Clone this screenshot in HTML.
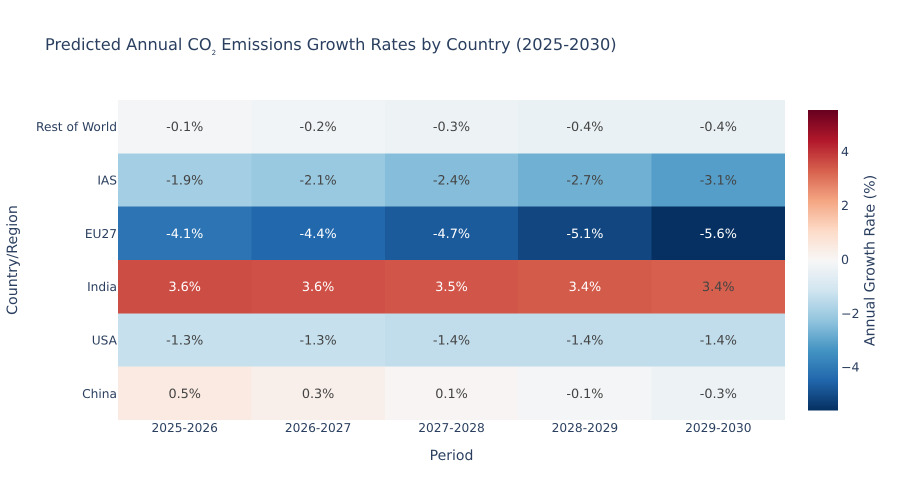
<!DOCTYPE html>
<html lang="en">
<head>
<meta charset="utf-8">
<title>Predicted Annual CO₂ Emissions Growth Rates by Country (2025-2030)</title>
<style>
html,body{margin:0;padding:0;background:#fff;width:900px;height:500px;overflow:hidden}
svg{display:block}
text{font-family:"DejaVu Sans",sans-serif;text-rendering:geometricPrecision}
</style>
</head>
<body>
<svg id="chart" width="900" height="500" viewBox="0 0 900 500" xmlns="http://www.w3.org/2000/svg">
  <rect x="0" y="0" width="900" height="500" fill="#fff"/>
  <text x="45" y="50" font-size="16.2" fill="#2a3f5f">Predicted Annual CO<tspan font-size="7" dy="5">2</tspan><tspan dy="-5"> Emissions Growth Rates by Country (2025-2030)</tspan></text>
  <g id="cells"></g>
  <g id="xticks"></g>
  <g id="yticks"></g>
  <text x="451.5" y="460" font-size="14" fill="#2a3f5f" text-anchor="middle">Period</text>
  <text transform="translate(17,260) rotate(-90)" font-size="14.2" fill="#2a3f5f" text-anchor="middle">Country/Region</text>
  <g id="colorbar"></g>
  <g id="cbticks"></g>
  <text transform="translate(874.5,260.5) rotate(-90)" font-size="14.2" fill="#2a3f5f" text-anchor="middle">Annual Growth Rate (%)</text>
</svg>
<script>
const periods = ["2025-2026", "2026-2027", "2027-2028", "2028-2029", "2029-2030"];
const regions = ["China", "USA", "India", "EU27", "IAS", "Rest of World"];
const chinaValues = [0.5, 0.3, 0.1, -0.1, -0.3];
const usaValues = [-1.3, -1.3, -1.4, -1.4, -1.4];
const indiaValues = [3.63, 3.58, 3.5, 3.42, 3.35];
const eu27Values = [-4.1, -4.4, -4.7, -5.1, -5.56];
const iasValues = [-1.9, -2.1, -2.4, -2.7, -3.1];
const restOfWorldValues = [-0.1, -0.2, -0.3, -0.4, -0.4];
const colorbarTicks = [-4, -2, 0, 2, 4];

const rows = [chinaValues, usaValues, indiaValues, eu27Values, iasValues, restOfWorldValues];
const NS = "http://www.w3.org/2000/svg";
const plot = { left: 118, right: 785, top: 100, bottom: 420 };
const bar = { left: 808, right: 838, top: 110, bottom: 410 };
const palette = [[5,48,97],[33,102,172],[67,147,195],[146,197,222],[209,229,240],[247,247,247],[253,219,199],[244,165,130],[214,96,77],[178,24,43],[103,0,31]];

const zAbsMax = Math.max(...rows.flat().map(Math.abs));
const zMin = -zAbsMax;
const zMax = zAbsMax;

function xScale(i) { return plot.left + i * (plot.right - plot.left) / periods.length; }
function yScale(i) { return plot.bottom - i * (plot.bottom - plot.top) / regions.length; }
function barY(v) { return bar.bottom - (v - zMin) / (zMax - zMin) * (bar.bottom - bar.top); }
function colorRgb(v) {
  const t = Math.min(1, Math.max(0, (v - zMin) / (zMax - zMin))) * (palette.length - 1);
  const i = Math.min(palette.length - 2, Math.floor(t));
  const f = t - i;
  return palette[i].map((c, k) => c + (palette[i + 1][k] - c) * f);
}
function css(rgb) { return "rgb(" + rgb.map(Math.round).join(",") + ")"; }
function textColor(rgb) {
  return (rgb[0] * 299 + rgb[1] * 587 + rgb[2] * 114) / 1000 < 128 ? "#fff" : "#444";
}
function make(tag, attrs, parent, content) {
  const el = document.createElementNS(NS, tag);
  for (const k in attrs) el.setAttribute(k, attrs[k]);
  if (content !== undefined) el.textContent = content;
  parent.appendChild(el);
  return el;
}

const cells = document.getElementById("cells");
rows.forEach((row, r) => {
  row.forEach((v, c) => {
    const rgb = colorRgb(v);
    const x0 = xScale(c), x1 = xScale(c + 1), y0 = yScale(r + 1), y1 = yScale(r);
    const rect = make("rect", { x: x0, y: y0, width: x1 - x0, height: y1 - y0, fill: css(rgb), "shape-rendering": "crispEdges" }, cells);
    
    
    const label = make("text", { x: (x0 + x1) / 2, y: (y0 + y1) / 2 + 4.5, "font-size": 12.8, "text-anchor": "middle", fill: textColor(rgb) }, cells, v.toFixed(1) + "%");
    
    
  });
});

const xticks = document.getElementById("xticks");
periods.forEach((p, i) => {
  const t = make("text", { x: (xScale(i) + xScale(i + 1)) / 2, y: 432, "font-size": 12.2, "text-anchor": "middle", fill: "#2a3f5f" }, xticks, p);
  
  
});

const yticks = document.getElementById("yticks");
regions.forEach((name, i) => {
  const t = make("text", { x: 117, y: (yScale(i) + yScale(i + 1)) / 2 + 4.5, "font-size": 12.2, "text-anchor": "end", fill: "#2a3f5f" }, yticks, name);
  
  
});

const colorbar = document.getElementById("colorbar");
const barSteps = 150;
for (let i = 0; i < barSteps; i++) {
  const lo = zMin + (zMax - zMin) * i / barSteps;
  const hi = zMin + (zMax - zMin) * (i + 1) / barSteps;
  const seg = make("rect", { x: bar.left, y: barY(hi), width: bar.right - bar.left, height: barY(lo) - barY(hi) + 0.5, fill: css(colorRgb((lo + hi) / 2)) }, colorbar);
  
  
}

const cbticks = document.getElementById("cbticks");
colorbarTicks.forEach(v => {
  const t = make("text", { x: 841, y: barY(v) + 3.8, "font-size": 12.6, fill: "#2a3f5f" }, cbticks, String(v).replace("-", "\u2212"));
  
  
});
</script>
</body>
</html>
